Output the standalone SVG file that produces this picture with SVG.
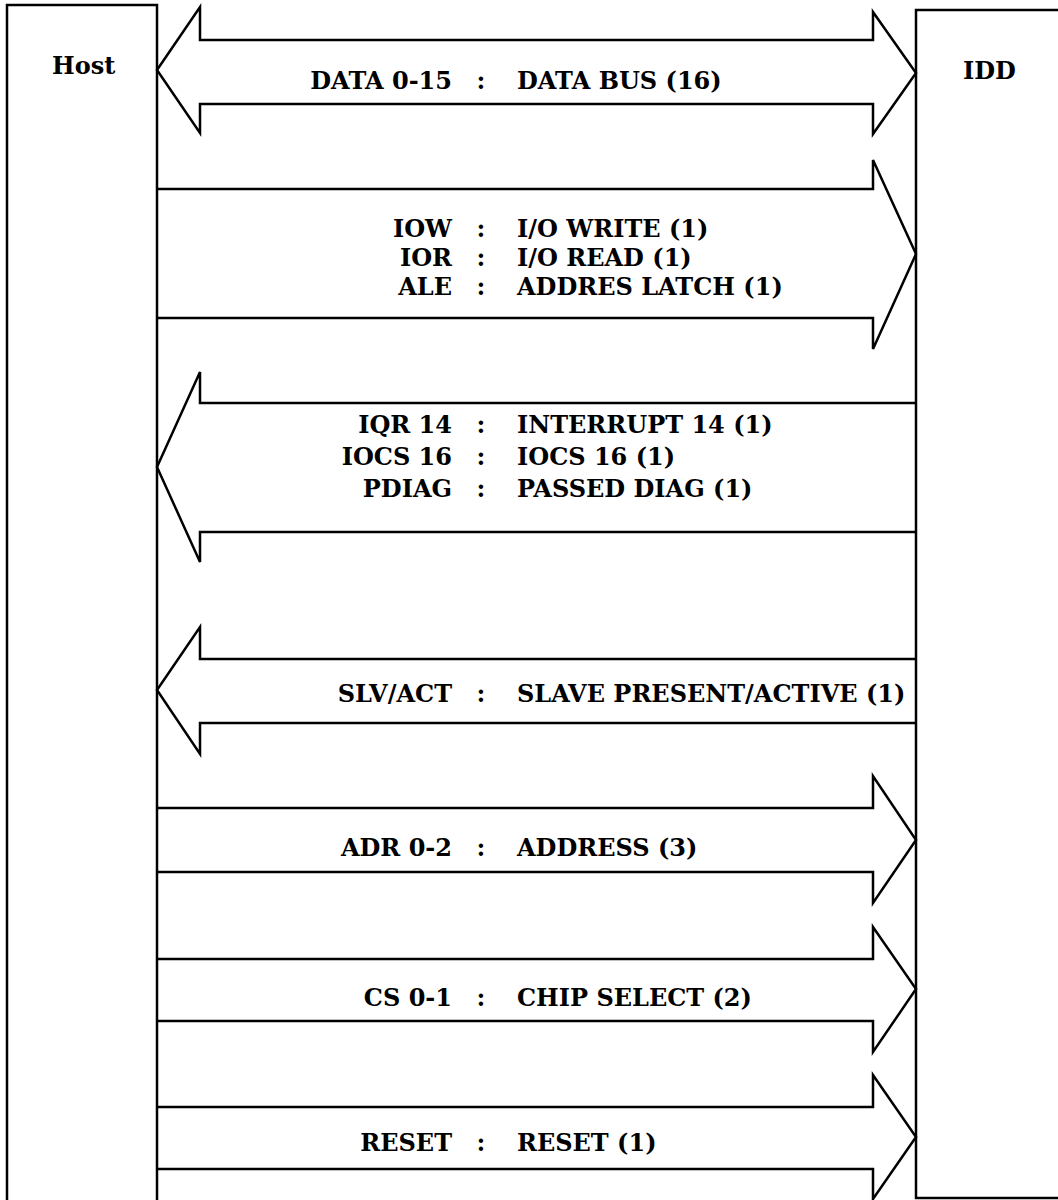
<svg xmlns="http://www.w3.org/2000/svg" width="1058" height="1200" viewBox="0 0 1058 1200">
<style>
.box{fill:#fff;stroke:#000;stroke-width:2.5}
.arr{fill:none;stroke:#000;stroke-width:2.5;stroke-linejoin:miter}
.t{font-family:"DejaVu Serif","Liberation Serif",serif;font-weight:bold;font-size:24px;fill:#000}
.l{text-anchor:end}
.c{text-anchor:middle}
</style>
<rect width="1058" height="1200" fill="#fff"/>
<g id="host">
<rect class="box" x="7" y="5" width="150" height="1210"/>
<text class="t" x="52" y="74">Host</text>
</g>
<g id="idd">
<rect class="box" x="916" y="10" width="160" height="1188"/>
<text class="t" x="963" y="79">IDD</text>
</g>
<g id="connectors">
<polygon class="arr" points="157,70 200,7 200,40 873,40 873,12 916,73 873,134 873,104 200,104 200,133"/>
<polyline class="arr" points="157,189 873,189 873,160 916,254 873,349 873,318 157,318"/>
<polyline class="arr" points="916,403 200,403 200,372 157,467 200,562 200,532 916,532"/>
<polyline class="arr" points="916,659 200,659 200,627 157,690 200,754 200,723 916,723"/>
<polyline class="arr" points="157,808 873,808 873,776 916,840 873,903 873,872 157,872"/>
<polyline class="arr" points="157,959 873,959 873,927 916,989 873,1052 873,1021 157,1021"/>
<polyline class="arr" points="157,1107 873,1107 873,1075 916,1137 873,1199 873,1169 157,1169"/>
</g>
<g id="labels">
<text class="t l" x="452" y="89">DATA 0-15</text><text class="t c" x="481" y="89">:</text><text class="t" x="517" y="89">DATA BUS (16)</text>
<text class="t l" x="452" y="237">IOW</text><text class="t c" x="481" y="237">:</text><text class="t" x="517" y="237">I/O WRITE (1)</text>
<text class="t l" x="452" y="266">IOR</text><text class="t c" x="481" y="266">:</text><text class="t" x="517" y="266">I/O READ (1)</text>
<text class="t l" x="452" y="295">ALE</text><text class="t c" x="481" y="295">:</text><text class="t" x="517" y="295">ADDRES LATCH (1)</text>
<text class="t l" x="452" y="433">IQR 14</text><text class="t c" x="481" y="433">:</text><text class="t" x="517" y="433">INTERRUPT 14 (1)</text>
<text class="t l" x="452" y="465">IOCS 16</text><text class="t c" x="481" y="465">:</text><text class="t" x="517" y="465">IOCS 16 (1)</text>
<text class="t l" x="452" y="497">PDIAG</text><text class="t c" x="481" y="497">:</text><text class="t" x="517" y="497">PASSED DIAG (1)</text>
<text class="t l" x="452" y="702">SLV/ACT</text><text class="t c" x="481" y="702">:</text><text class="t" x="517" y="702">SLAVE PRESENT/ACTIVE (1)</text>
<text class="t l" x="452" y="856">ADR 0-2</text><text class="t c" x="481" y="856">:</text><text class="t" x="517" y="856">ADDRESS (3)</text>
<text class="t l" x="452" y="1006">CS 0-1</text><text class="t c" x="481" y="1006">:</text><text class="t" x="517" y="1006">CHIP SELECT (2)</text>
<text class="t l" x="452" y="1151">RESET</text><text class="t c" x="481" y="1151">:</text><text class="t" x="517" y="1151">RESET (1)</text>
</g>
</svg>
